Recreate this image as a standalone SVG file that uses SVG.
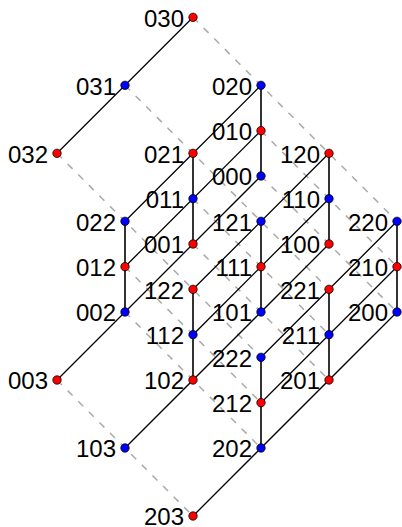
<svg xmlns="http://www.w3.org/2000/svg" width="402" height="527" viewBox="0 0 402 527">
<style>
.d{stroke:#aaaaaa;stroke-width:1.5;stroke-dasharray:7 8;fill:none}
.s{stroke:#000;stroke-width:1.3;fill:none}
.v{stroke:#333;stroke-width:2;fill:none}
.r{fill:#ff0000;stroke:#000;stroke-width:0.8}
.b{fill:#0000ff;stroke:#000;stroke-width:0.8}
text{font-family:"Liberation Sans",Arial,sans-serif;font-size:24px;fill:#000;text-anchor:end}
</style>
<rect width="402" height="527" fill="#fff"/>
<g id="connectors">
<g id="dashed">
<line class="d" x1="193" y1="17.33" x2="397" y2="221.33"/>
<line class="d" x1="125" y1="85.33" x2="329" y2="289.33"/>
<line class="d" x1="57" y1="153.33" x2="261" y2="357.33"/>
<line class="d" x1="261" y1="130.67" x2="397" y2="266.67"/>
<line class="d" x1="193" y1="198.67" x2="329" y2="334.67"/>
<line class="d" x1="125" y1="266.67" x2="261" y2="402.67"/>
<line class="d" x1="261" y1="176" x2="397" y2="312"/>
<line class="d" x1="193" y1="244" x2="329" y2="380"/>
<line class="d" x1="125" y1="312" x2="261" y2="448"/>
<line class="d" x1="57" y1="380" x2="193" y2="516"/>
</g>
<g id="vertical">
<line class="v" x1="261" y1="85.33" x2="261" y2="176"/>
<line class="v" x1="193" y1="153.33" x2="193" y2="244"/>
<line class="v" x1="125" y1="221.33" x2="125" y2="312"/>
<line class="v" x1="329" y1="153.33" x2="329" y2="244"/>
<line class="v" x1="261" y1="221.33" x2="261" y2="312"/>
<line class="v" x1="193" y1="289.33" x2="193" y2="380"/>
<line class="v" x1="397" y1="221.33" x2="397" y2="312"/>
<line class="v" x1="329" y1="289.33" x2="329" y2="380"/>
<line class="v" x1="261" y1="357.33" x2="261" y2="448"/>
</g>
<g id="solid">
<line class="s" x1="193" y1="17.33" x2="57" y2="153.33"/>
<line class="s" x1="261" y1="85.33" x2="125" y2="221.33"/>
<line class="s" x1="261" y1="130.67" x2="125" y2="266.67"/>
<line class="s" x1="261" y1="176" x2="57" y2="380"/>
<line class="s" x1="329" y1="153.33" x2="193" y2="289.33"/>
<line class="s" x1="329" y1="198.67" x2="193" y2="334.67"/>
<line class="s" x1="329" y1="244" x2="125" y2="448"/>
<line class="s" x1="397" y1="221.33" x2="261" y2="357.33"/>
<line class="s" x1="397" y1="266.67" x2="261" y2="402.67"/>
<line class="s" x1="397" y1="312" x2="193" y2="516"/>
</g>
</g>
<g id="n030"><circle class="r" cx="193" cy="17.33" r="4.2"/><text x="184" y="26.5">030</text></g>
<g id="n031"><circle class="b" cx="125" cy="85.33" r="4.2"/><text x="116" y="94.5">031</text></g>
<g id="n020"><circle class="b" cx="261" cy="85.33" r="4.2"/><text x="252" y="94.5">020</text></g>
<g id="n010"><circle class="r" cx="261" cy="130.67" r="4.2"/><text x="252" y="139.8">010</text></g>
<g id="n032"><circle class="r" cx="57" cy="153.33" r="4.2"/><text x="48" y="162.5">032</text></g>
<g id="n021"><circle class="r" cx="193" cy="153.33" r="4.2"/><text x="184" y="162.5">021</text></g>
<g id="n120"><circle class="r" cx="329" cy="153.33" r="4.2"/><text x="320" y="162.5">120</text></g>
<g id="n000"><circle class="b" cx="261" cy="176" r="4.2"/><text x="252" y="185.2">000</text></g>
<g id="n011"><circle class="b" cx="193" cy="198.67" r="4.2"/><text x="184" y="207.8">011</text></g>
<g id="n110"><circle class="b" cx="329" cy="198.67" r="4.2"/><text x="320" y="207.8">110</text></g>
<g id="n022"><circle class="b" cx="125" cy="221.33" r="4.2"/><text x="116" y="230.5">022</text></g>
<g id="n121"><circle class="b" cx="261" cy="221.33" r="4.2"/><text x="252" y="230.5">121</text></g>
<g id="n220"><circle class="b" cx="397" cy="221.33" r="4.2"/><text x="388" y="230.5">220</text></g>
<g id="n001"><circle class="r" cx="193" cy="244" r="4.2"/><text x="184" y="253.2">001</text></g>
<g id="n100"><circle class="r" cx="329" cy="244" r="4.2"/><text x="320" y="253.2">100</text></g>
<g id="n012"><circle class="r" cx="125" cy="266.67" r="4.2"/><text x="116" y="275.8">012</text></g>
<g id="n111"><circle class="r" cx="261" cy="266.67" r="4.2"/><text x="252" y="275.8">111</text></g>
<g id="n210"><circle class="r" cx="397" cy="266.67" r="4.2"/><text x="388" y="275.8">210</text></g>
<g id="n122"><circle class="r" cx="193" cy="289.33" r="4.2"/><text x="184" y="298.5">122</text></g>
<g id="n221"><circle class="r" cx="329" cy="289.33" r="4.2"/><text x="320" y="298.5">221</text></g>
<g id="n002"><circle class="b" cx="125" cy="312" r="4.2"/><text x="116" y="321.2">002</text></g>
<g id="n101"><circle class="b" cx="261" cy="312" r="4.2"/><text x="252" y="321.2">101</text></g>
<g id="n200"><circle class="b" cx="397" cy="312" r="4.2"/><text x="388" y="321.2">200</text></g>
<g id="n112"><circle class="b" cx="193" cy="334.67" r="4.2"/><text x="184" y="343.8">112</text></g>
<g id="n211"><circle class="b" cx="329" cy="334.67" r="4.2"/><text x="320" y="343.8">211</text></g>
<g id="n222"><circle class="b" cx="261" cy="357.33" r="4.2"/><text x="252" y="366.5">222</text></g>
<g id="n003"><circle class="r" cx="57" cy="380" r="4.2"/><text x="48" y="389.2">003</text></g>
<g id="n102"><circle class="r" cx="193" cy="380" r="4.2"/><text x="184" y="389.2">102</text></g>
<g id="n201"><circle class="r" cx="329" cy="380" r="4.2"/><text x="320" y="389.2">201</text></g>
<g id="n212"><circle class="r" cx="261" cy="402.67" r="4.2"/><text x="252" y="411.8">212</text></g>
<g id="n103"><circle class="b" cx="125" cy="448" r="4.2"/><text x="116" y="457.2">103</text></g>
<g id="n202"><circle class="b" cx="261" cy="448" r="4.2"/><text x="252" y="457.2">202</text></g>
<g id="n203"><circle class="r" cx="193" cy="516" r="4.2"/><text x="184" y="524.5">203</text></g>
</svg>
